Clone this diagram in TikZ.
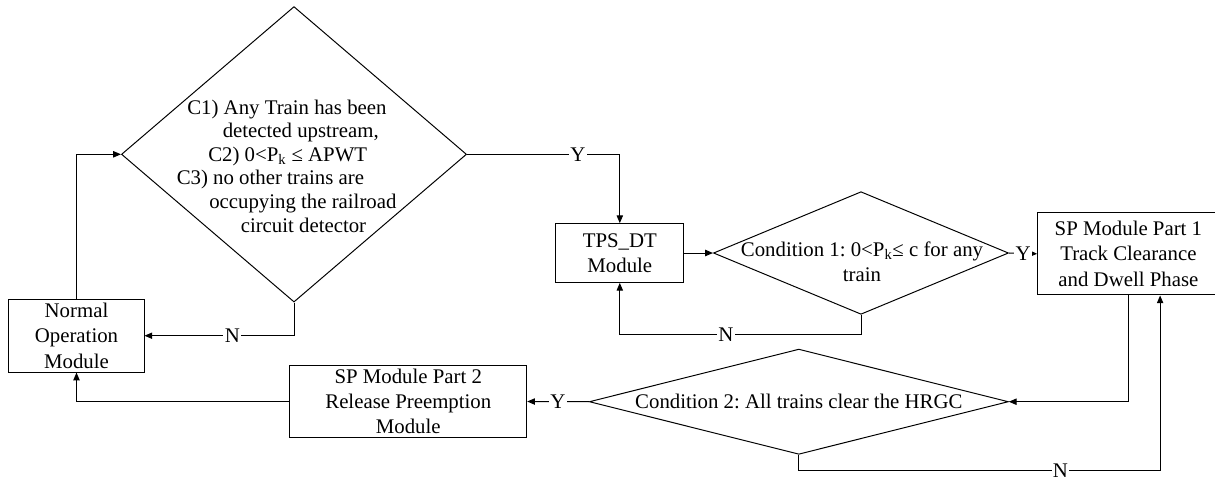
\documentclass[tikz,border=0pt]{standalone}
\usepackage{fontspec}
\setmainfont{Liberation Serif}
\usetikzlibrary{shapes.geometric,arrows.meta,calc}
\frenchspacing

\begin{document}
\begin{tikzpicture}[x=0.025cm,y=-0.025cm,
	font=\fontsize{14.8}{18}\selectfont,
	module/.style={draw,rectangle,align=center,inner sep=0pt,line width=0.7pt},
	decision/.style={draw,diamond,inner sep=0pt,line width=0.7pt},
	arr/.style={line width=0.7pt,-{Triangle[length=5.5pt,width=4.5pt]}},
	lbl/.style={fill=white,inner sep=1pt}]
	\clip (0,0) rectangle (1215,483);
	% modules
	\node[module,minimum width=3.375cm,minimum height=1.8175cm] (normal) at (76.5,335.7) {Normal\\Operation\\Module};
	\node[module,minimum width=5.9175cm,minimum height=1.81cm] (sp2) at (408.3,401.5) {SP Module Part 2\\Release Preemption\\Module};
	\node[module,minimum width=3.2075cm,minimum height=1.4675cm] (tps) at (619.8,253) {TPS\_DT\\Module};
	\node[module,minimum width=4.535cm,minimum height=2.0575cm] (sp1) at (1128.4,253.8) {SP Module Part 1\\Track Clearance\\and Dwell Phase};
	% decisions
	\node[decision,minimum width=8.625cm,minimum height=7.385cm] (c0) at (294,154.3) {};
	\node[align=left,anchor=west,inner sep=0pt,font=\fontsize{14.8}{16.8}\selectfont] (c0txt) at (176.5,166) {\hspace*{7.5pt}C1) Any Train has been\\\hspace*{32.7pt}detected upstream,\\\hspace*{22.4pt}C2) 0<P\textsubscript{k} ≤ APWT\\C3) no other trains are\\\hspace*{23.1pt}occupying the railroad\\\hspace*{45.5pt}circuit detector};
	\node[decision,minimum width=7.375cm,minimum height=3.065cm] (c1) at (861,253) {};
	\node[align=center,inner sep=0pt] (c1txt) at (862,262) {Condition 1: 0<P\textsubscript{k}≤ c for any\\train};
	\node[decision,minimum width=10.475cm,minimum height=2.63cm] (c2) at (798.8,401.7) {};
	\node[inner sep=0pt] (c2txt) at (c2) {Condition 2: All trains clear the HRGC};
	% connectors
	\coordinate (sp1in) at ($(sp1.south)+(31.7,0)$);
	\draw[arr] (normal.north) |- (c0.west);
	\draw[arr] (c0.south) |- node[lbl,pos=0.706]{N} (normal.east);
	\draw[arr] (c0.east) -| node[lbl,pos=0.363]{Y} (tps.north);
	\draw[arr] (tps.east) -- (c1.west);
	\draw[arr] (c1.south) -- ++(0,20) -| node[lbl,pos=0.28]{N} (tps.south);
	\draw[arr] (c1.east) -- node[lbl]{Y} (sp1.west);
	\draw[arr] (sp1.south) |- (c2.east);
	\draw[arr] (c2.south) -- ++(0,16) -| node[lbl,inner sep=0.5pt,pos=0.362]{N} (sp1in);
	\draw[arr] (c2.west) -- node[lbl]{Y} (sp2.east);
	\draw[arr] (sp2.west) -| (normal.south);
\end{tikzpicture}
\end{document}
